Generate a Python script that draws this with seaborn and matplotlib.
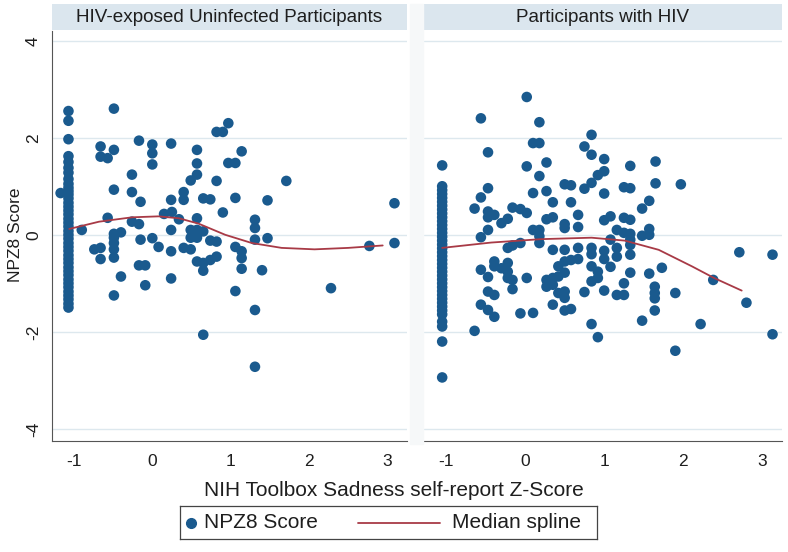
import numpy as np
import pandas as pd
import matplotlib
matplotlib.use('Agg')
import matplotlib.pyplot as plt
import seaborn as sns
from matplotlib.patches import Rectangle

# panel titles / labels
panels = ['HIV-exposed Uninfected Participants', 'Participants with HIV']
x_label = 'NIH Toolbox Sadness self-report Z-Score'
y_label = 'NPZ8 Score'
legend_labels = ['NPZ8 Score', 'Median spline']
x_ticks = [-1, 0, 1, 2, 3]
y_ticks = [-4, -2, 0, 2, 4]

# HEU: participants at the floor of the sadness score
heu_floor_x = -1.07
heu_floor_y = [2.55, 2.35, 1.97, 1.62, 1.50, 1.38, 1.28, 1.15, 1.05, 0.97, 0.90, 0.83,
               0.75, 0.66, 0.58, 0.50, 0.42, 0.33, 0.25, 0.17, 0.08, 0.0, -0.08, -0.17,
               -0.25, -0.33, -0.42, -0.50, -0.58, -0.67, -0.75, -0.83, -0.92, -1.0,
               -1.08, -1.17, -1.25, -1.33, -1.42, -1.50]
# HEU: remaining participants
heu_x = [-1.17, -0.90, -0.74, -0.66, -0.66, -0.66, -0.66, -0.57, -0.57,
         -0.49, -0.49, -0.49, -0.49, -0.49, -0.49, -0.49, -0.49, -0.49,
         -0.40, -0.40, -0.26, -0.26, -0.26, -0.17, -0.17, -0.17, -0.15, -0.15,
         -0.09, -0.09, 0.0, 0.0, 0.0, 0.0, 0.08, 0.15,
         0.24, 0.24, 0.25, 0.24, 0.24, 0.24, 0.34, 0.40, 0.40, 0.40,
         0.49, 0.49, 0.49, 0.49, 0.57, 0.57, 0.57, 0.57, 0.57, 0.57, 0.57,
         0.65, 0.65, 0.65, 0.65, 0.65, 0.74, 0.74, 0.74, 0.82, 0.82, 0.82, 0.82,
         0.90, 0.90, 0.97, 0.97, 1.06, 1.06, 1.06, 1.06, 1.14, 1.14, 1.14, 1.14,
         1.31, 1.31, 1.31, 1.31, 1.31, 1.40, 1.47, 1.47, 1.71, 2.28, 2.77, 3.09, 3.09]
heu_y = [0.86, 0.10, -0.30, 1.82, 1.61, -0.27, -0.50, 1.58, 0.35,
         2.60, 1.75, 0.93, 0.02, -0.17, -0.30, -0.47, -1.25, -0.06,
         0.05, -0.86, 1.24, 0.88, 0.27, 1.94, 0.22, -0.63, 0.68, -0.10,
         -0.63, -1.04, 1.86, 1.68, 1.45, -0.07, -0.25, 0.43,
         1.88, 0.72, 0.47, 0.10, -0.34, -0.90, 0.32, 0.88, 0.72, -0.27,
         1.12, 0.10, -0.06, -0.30, 1.75, 1.47, 1.24, 0.34, 0.10, -0.06, -0.55,
         0.75, 0.07, -0.58, -0.74, -2.06, 0.73, -0.12, -0.52, 2.12, 1.11, -0.14, -0.45,
         2.12, 0.46, 2.30, 1.48, 1.48, 0.76, -0.25, -1.16, 1.72, -0.34, -0.48, -0.70,
         0.31, 0.14, -0.10, -1.55, -2.72, -0.73, 0.71, -0.07, 1.11, -1.10, -0.23, 0.65, -0.17]
heu_spline_x = [-1.06, -0.68, -0.26, 0.08, 0.34, 0.59, 0.93, 1.27, 1.65, 2.07, 2.50, 2.94]
heu_spline_y = [0.12, 0.27, 0.36, 0.38, 0.34, 0.23, 0.0, -0.17, -0.27, -0.30, -0.27, -0.22]

# HIV: participants at the floor
hiv_floor_x = -1.05
hiv_floor_y = [1.43, 1.0, 0.92, 0.84, 0.76, 0.68, 0.60, 0.52, 0.44, 0.36, 0.28, 0.20,
               0.12, 0.04, -0.04, -0.12, -0.20, -0.28, -0.36, -0.44, -0.52, -0.60,
               -0.68, -0.76, -0.84, -0.92, -1.0, -1.08, -1.16, -1.24, -1.32, -1.40,
               -1.48, -1.56, -1.64, -1.79, -1.89, -2.20, -2.94]
# HIV: remaining participants
hiv_x = [-0.64, -0.64, -0.56, -0.56, -0.56, -0.56, -0.56,
         -0.47, -0.47, -0.47, -0.47, -0.47, -0.47, -0.47, -0.47,
         -0.39, -0.39, -0.39, -0.39, -0.39, -0.30, -0.30,
         -0.22, -0.22, -0.22, -0.22, -0.22, -0.16, -0.16, -0.16, -0.16,
         -0.06, -0.06, -0.06, 0.02, 0.02, 0.02, 0.02, 0.10, 0.10, 0.10, 0.10,
         0.18, 0.18, 0.18, 0.18, 0.18, 0.18, 0.27, 0.27, 0.27, 0.27, 0.27,
         0.35, 0.35, 0.35, 0.35, 0.35, 0.35, 0.42, 0.42, 0.42,
         0.50, 0.50, 0.50, 0.50, 0.50, 0.50, 0.50, 0.50, 0.50,
         0.58, 0.58, 0.58, 0.58, 0.67, 0.67, 0.67, 0.67, 0.75, 0.75, 0.75,
         0.84, 0.84, 0.84, 0.84, 0.84, 0.84, 0.84, 0.84, 0.92, 0.92, 0.92, 0.92,
         1.0, 1.0, 1.0, 1.0, 1.0, 1.0, 1.0, 1.08, 1.08, 1.08,
         1.16, 1.16, 1.16, 1.16, 1.25, 1.25, 1.25, 1.25, 1.25,
         1.33, 1.33, 1.33, 1.33, 1.33, 1.33, 1.33, 1.33, 1.48, 1.48, 1.48,
         1.57, 1.57, 1.57, 1.57, 1.65, 1.65, 1.64, 1.64, 1.64, 1.64,
         1.73, 1.90, 1.90, 1.97, 2.22, 2.38, 2.71, 2.80, 3.13, 3.13]
hiv_y = [0.54, -1.98, 2.40, 0.77, -0.05, -0.72, -1.44,
         1.70, 0.96, 0.48, 0.36, 0.10, -0.87, -1.17, -1.55,
         0.41, -0.55, -0.65, -1.24, -1.69, 0.24, -0.69,
         0.33, -0.27, -0.58, -0.76, -0.89, 0.56, -0.22, -0.93, -1.12,
         0.53, -0.17, -1.62, 2.84, 1.41, 0.45, -0.89, 1.89, 0.86, 0.10, -1.61,
         2.32, 1.89, 1.21, 0.10, -0.03, -0.17, 1.49, 0.90, 0.32, -0.93, -1.07,
         0.67, 0.36, -0.31, -0.89, -1.03, -1.44, -0.65, -0.86, -1.20,
         1.04, 0.22, 0.14, -0.31, -0.55, -0.78, -1.17, -1.30, -1.56,
         1.02, 0.67, -0.52, -1.53, 0.41, 0.16, -0.27, -0.50, 1.82, 0.95, -1.18,
         2.06, 1.65, 1.07, -0.27, -0.40, -0.65, -0.96, -1.84, 1.23, -0.76, -0.89, -2.11,
         1.56, 1.31, 0.85, 0.30, -0.33, -0.50, -1.15, 0.38, -0.10, -0.66,
         0.10, -0.27, -0.45, -1.24, 0.98, 0.35, 0.04, -1.0, -1.24,
         1.42, 0.96, 0.31, 0.02, -0.10, -0.21, -0.41, -0.78, 0.54, -0.02, -1.77,
         0.70, 0.12, 0.0, -0.80, 1.51, 1.06, -1.07, -1.20, -1.31, -1.56,
         -0.68, -1.20, -2.39, 1.04, -1.84, -0.93, -0.36, -1.40, -0.41, -2.05]
hiv_spline_x = [-1.05, -0.43, 0.20, 0.84, 1.26, 1.69, 2.11, 2.39, 2.74]
hiv_spline_y = [-0.27, -0.16, -0.09, -0.06, -0.12, -0.31, -0.65, -0.89, -1.15]

navy = '#1a5a8e'
maroon = '#a83a46'
grid_c = '#dde8ee'
strip_c = '#dbe6ee'
axis_c = '#555555'
text_c = '#1e1e1e'

sns.set_style('white')
plt.rcParams['font.family'] = ['Liberation Sans', 'DejaVu Sans']
plt.rcParams['axes.unicode_minus'] = False

def frame(floor_x, floor_y, xs, ys):
    d1 = pd.DataFrame({'x': [floor_x] * len(floor_y), 'y': floor_y})
    d2 = pd.DataFrame({'x': xs, 'y': ys})
    return pd.concat([d1, d2], ignore_index=True)

data = [frame(heu_floor_x, heu_floor_y, heu_x, heu_y),
        frame(hiv_floor_x, hiv_floor_y, hiv_x, hiv_y)]
splines = [(heu_spline_x, heu_spline_y), (hiv_spline_x, hiv_spline_y)]

fig = plt.figure(figsize=(7.88, 5.52), dpi=100)
W, H = 788, 552
lefts = [52 / W, 424 / W]
widths = [355 / W, 358 / W]
bottom = 1 - 441 / H
height = (441 - 31) / H

# faint band between the two panels
fig.patches.append(Rectangle((410 / W, 1 - 444 / H), 13 / W, 440 / H,
                             transform=fig.transFigure, color='#f6f8f9', zorder=0))

for i in range(2):
    ax = fig.add_axes([lefts[i], bottom, widths[i], height])
    for yt in y_ticks:
        ax.axhline(yt, color=grid_c, lw=1.0, zorder=0)
    sns.scatterplot(data=data[i], x='x', y='y', ax=ax, color=navy, s=58,
                    edgecolor='none', zorder=3, legend=False)
    sx, sy = splines[i]
    sns.lineplot(x=sx, y=sy, ax=ax, color=maroon, lw=1.3, zorder=4,
                 estimator=None, sort=False)
    ax.set_xlim(-1.28, 3.25)
    ax.set_ylim(-4.25, 4.2)
    ax.set_xticks(x_ticks)
    ax.set_yticks(y_ticks)
    ax.set_xlabel('')
    ax.set_ylabel('')
    for sp in ['top', 'right']:
        ax.spines[sp].set_visible(False)
    ax.spines['bottom'].set_color(axis_c)
    ax.tick_params(axis='x', length=5, color=axis_c, labelsize=12.5, pad=4,
                   labelcolor=text_c)
    if i == 0:
        ax.spines['left'].set_color(axis_c)
        ax.tick_params(axis='y', length=5, color=axis_c, labelsize=12.5, pad=3,
                       labelcolor=text_c)
        ax.set_yticklabels([str(t) for t in y_ticks], rotation=90, va='center')
    else:
        ax.spines['left'].set_visible(False)
        ax.tick_params(axis='y', left=False, labelleft=False)

    strip = fig.add_axes([lefts[i], 1 - 30 / H, widths[i], 26 / H])
    strip.set_facecolor(strip_c)
    strip.set_xticks([])
    strip.set_yticks([])
    for sp in strip.spines.values():
        sp.set_visible(False)
    strip.text(0.5, 0.5, panels[i], ha='center', va='center', fontsize=13.6,
               color=text_c, transform=strip.transAxes)

fig.text(394 / W, 1 - 491 / H, x_label, ha='center', va='center', fontsize=15,
         color=text_c)
fig.text(15 / W, 1 - 235 / H, y_label, ha='center', va='center', fontsize=12.5,
         rotation=90, color=text_c)

# legend box drawn in its own pixel-sized axes
lg = fig.add_axes([180 / W, 1 - 539 / H, 417 / W, 33 / H])
lg.set_xlim(0, 417)
lg.set_ylim(0, 33)
lg.set_xticks([])
lg.set_yticks([])
for sp in lg.spines.values():
    sp.set_color('#444444')
    sp.set_linewidth(0.9)
lg.plot([11], [16.5], marker='o', ms=7, color=navy, ls='none')
lg.text(24, 16.5, legend_labels[0], fontsize=15, va='center', color=text_c)
lg.plot([178, 260], [16.5, 16.5], color=maroon, lw=1.3)
lg.text(272, 16.5, legend_labels[1], fontsize=15, va='center', color=text_c)

fig.savefig('out.png', dpi=100)
